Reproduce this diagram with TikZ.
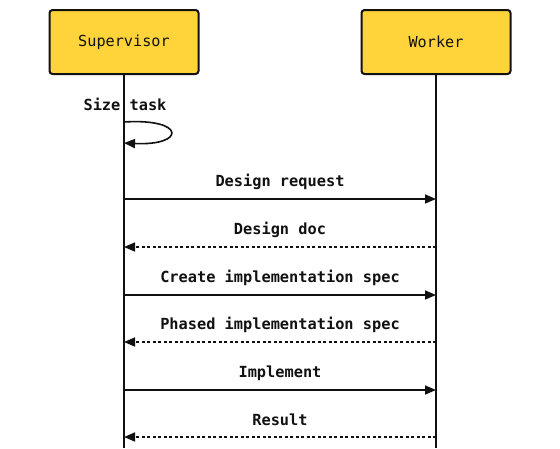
\documentclass[tikz,border=0pt]{standalone}
\usepackage{fontspec}
\setmonofont{DejaVu Sans Mono}
\usetikzlibrary{arrows.meta}
\definecolor{actorfill}{HTML}{FFD43B}
\definecolor{ink}{HTML}{111111}
\tikzset{
  actor/.style={draw=ink, line width=2pt, fill=actorfill, rounded corners=3pt,
    minimum width=149pt, minimum height=64pt, font=\ttfamily\fontsize{15.2}{17}\selectfont, text=ink},
  lifeline/.style={draw=ink, line width=1.5pt},
  msg/.style={draw=ink, line width=1.6pt, -{Triangle[length=11pt,width=9pt]}},
  reply/.style={msg, dash pattern=on 3pt off 2.5pt},
  msglabel/.style={font=\ttfamily\bfseries\fontsize{15.3}{17}\selectfont, text=ink, inner sep=0pt},
}
\begin{document}
\begin{tikzpicture}[x=1pt,y=-1pt]
\useasboundingbox (0,0) rectangle (560,448);
\node[actor] (sup) at (124,42) {Supervisor};
\node[actor] (wrk) at (436,42) {Worker};
\coordinate (supend) at (124,448);
\coordinate (wrkend) at (436,448);
\draw[lifeline] (sup.south) -- (supend);
\draw[lifeline] (wrk.south) -- (wrkend);
% self loop
\node[msglabel] (l0) at (125,104) {Size task};
\coordinate (s0a) at (124,122);
\coordinate (s0b) at (124,143);
\draw[msg] (s0a) .. controls (186,118) and (186,146) .. (s0b);
% messages
\foreach \y/\t/\st/\dir in {
  199/Design request/msg/r,
  247/Design doc/reply/l,
  295/Create implementation spec/msg/r,
  342/Phased implementation spec/reply/l,
  390/Implement/msg/r,
  437/Result/reply/l}{
  \coordinate (a\y) at (124,\y);
  \coordinate (b\y) at (436,\y);
  \node[msglabel] (lab\y) at (280,\y-17) {\t};
  \if r\dir
    \draw[\st] (a\y) -- (b\y);
  \else
    \draw[\st] (b\y) -- (a\y);
  \fi
}
\end{tikzpicture}
\end{document}
